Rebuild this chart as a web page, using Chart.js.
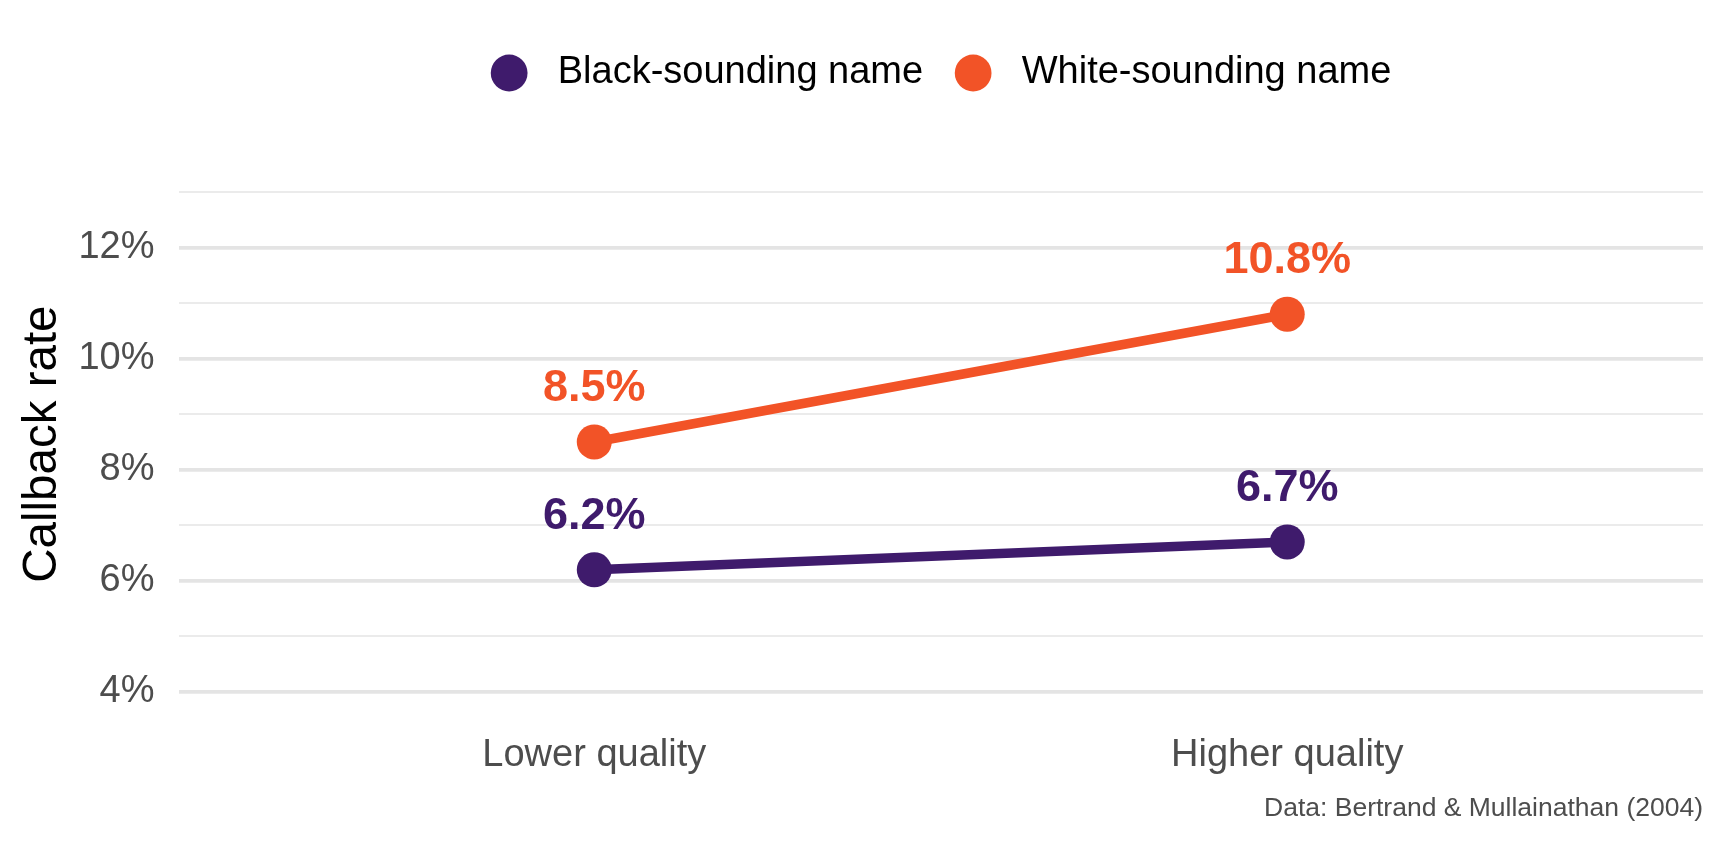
<!DOCTYPE html>
<html>
<head>
<meta charset="utf-8">
<script src="https://cdn.jsdelivr.net/npm/chart.js@4"></script>
<style>
  html, body { margin: 0; padding: 0; background: #ffffff; }
  #wrap { width: 1728px; height: 844px; }
</style>
</head>
<body>
<div id="wrap"><canvas id="c" width="1728" height="844"></canvas></div>
<script>
// ---- data ----
const categories = ['Lower quality', 'Higher quality'];
const blackSounding = [6.2, 6.7];
const whiteSounding = [8.5, 10.8];
const seriesNames = ['Black-sounding name', 'White-sounding name'];
const yTickValues = [4, 5, 6, 7, 8, 9, 10, 11, 12, 13];
const caption = 'Data: Bertrand & Mullainathan (2004)';
const yTitle = 'Callback rate';

// ---- style ----
const PURPLE = '#3f1b6c';
const ORANGE = '#f25327';
const FONT = "'Liberation Sans', Arial, Helvetica, sans-serif";
Chart.defaults.font.family = FONT;

const toPoints = arr => arr.map((v, i) => ({ x: i, y: v }));

const valueLabels = {
  id: 'valueLabels',
  afterDatasetsDraw(chart) {
    const ctx = chart.ctx;
    const yScale = chart.scales.y;
    ctx.save();
    ctx.font = 'bold 45px ' + FONT;
    ctx.textAlign = 'center';
    ctx.textBaseline = 'middle';
    chart.data.datasets.forEach((ds, di) => {
      const meta = chart.getDatasetMeta(di);
      meta.data.forEach((pt, i) => {
        const v = ds.data[i].y;
        ctx.fillStyle = ds.borderColor;
        ctx.fillText(v.toFixed(1) + '%', pt.x, yScale.getPixelForValue(v + 0.96));
      });
    });
    ctx.restore();
  }
};

new Chart(document.getElementById('c'), {
  type: 'line',
  data: {
    datasets: [
      {
        label: seriesNames[0],
        data: toPoints(blackSounding),
        borderColor: PURPLE,
        backgroundColor: PURPLE,
        borderWidth: 9.5,
        pointRadius: 17.5,
        pointHoverRadius: 17.5,
        pointBorderWidth: 0,
        pointBackgroundColor: PURPLE,
        tension: 0
      },
      {
        label: seriesNames[1],
        data: toPoints(whiteSounding),
        borderColor: ORANGE,
        backgroundColor: ORANGE,
        borderWidth: 9.5,
        pointRadius: 17.5,
        pointHoverRadius: 17.5,
        pointBorderWidth: 0,
        pointBackgroundColor: ORANGE,
        tension: 0
      }
    ]
  },
  options: {
    responsive: false,
    animation: false,
    devicePixelRatio: 1,
    layout: { padding: { top: 23, right: 25, bottom: 0, left: 0 } },
    plugins: {
      tooltip: { enabled: false },
      legend: {
        position: 'top',
        fullSize: false,
        labels: {
          usePointStyle: true,
          boxHeight: 26,
          boxWidth: 38,
          padding: 31,
          color: '#000000',
          font: { size: 38, family: FONT },
          generateLabels(chart) {
            const items = Chart.defaults.plugins.legend.labels.generateLabels(chart);
            return items.map(it => Object.assign(it, { text: ' ' + it.text, lineWidth: 0, pointStyle: 'circle' }));
          }
        }
      },
      subtitle: {
        display: true,
        text: '',
        position: 'top',
        weight: 100,
        font: { size: 10 },
        padding: { top: 52, bottom: 0 }
      },
      title: {
        display: true,
        text: caption,
        position: 'bottom',
        align: 'end',
        color: '#4d4d4d',
        font: { size: 26.5, weight: 'normal', family: FONT },
        padding: { top: 15, bottom: 19 }
      }
    },
    scales: {
      x: {
        type: 'linear',
        min: -0.6,
        max: 1.6,
        afterBuildTicks(scale) { scale.ticks = categories.map((c, i) => ({ value: i })); },
        afterFit(scale) { scale.height = 56; },
        grid: { display: false, drawTicks: false },
        border: { display: false },
        ticks: {
          padding: 11,
          color: '#4d4d4d',
          font: { size: 38, family: FONT },
          callback: v => categories[v] !== undefined ? categories[v] : ''
        }
      },
      y: {
        type: 'linear',
        min: 3.456,
        max: 13.468,
        afterBuildTicks(scale) { scale.ticks = yTickValues.map(v => ({ value: v })); },
        afterFit(scale) { scale.width = 178.5; },
        grid: {
          drawTicks: false,
          color: ctx => (ctx.tick && ctx.tick.value % 2 === 0) ? '#e4e4e4' : '#ebebeb',
          lineWidth: ctx => (ctx.tick && ctx.tick.value % 2 === 0) ? 3.8 : 2
        },
        border: { display: false },
        ticks: {
          padding: 24,
          color: '#4d4d4d',
          font: { size: 38, family: FONT },
          callback: v => (v % 2 === 0) ? v + '%' : ''
        },
        title: {
          display: true,
          text: yTitle,
          color: '#000000',
          font: { size: 47.5, family: FONT },
          padding: { top: 14, bottom: 0 }
        }
      }
    }
  },
  plugins: [valueLabels]
});
</script>
</body>
</html>
